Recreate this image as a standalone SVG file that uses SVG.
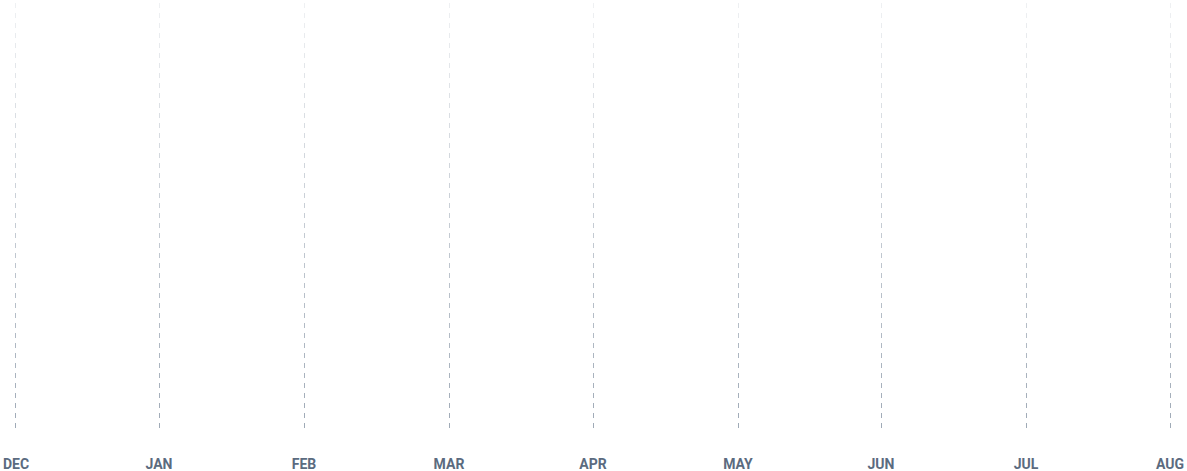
<svg xmlns="http://www.w3.org/2000/svg" width="1187" height="471" viewBox="0 0 1187 471">
<defs>
<linearGradient id="g" gradientUnits="userSpaceOnUse" x1="0" y1="3" x2="0" y2="430">
<stop offset="0" stop-color="#94a0ae" stop-opacity="0.15"/>
<stop offset="1" stop-color="#94a0ae" stop-opacity="0.9"/>
</linearGradient>
<style>
.l{stroke:url(#g);stroke-width:1;stroke-dasharray:5 5}
.t{font-family:Roboto,"Liberation Sans",sans-serif;font-weight:700;font-size:14px;fill:#5b6b7f;text-anchor:middle}
</style>
</defs>
<rect width="1187" height="471" fill="#fff"/>
<g id="connectors">
<line class="l" x1="15.5" y1="3" x2="15.5" y2="430"/>
<line class="l" x1="159.5" y1="3" x2="159.5" y2="430"/>
<line class="l" x1="304.5" y1="3" x2="304.5" y2="430"/>
<line class="l" x1="449.5" y1="3" x2="449.5" y2="430"/>
<line class="l" x1="593.5" y1="3" x2="593.5" y2="430"/>
<line class="l" x1="738.5" y1="3" x2="738.5" y2="430"/>
<line class="l" x1="881.5" y1="3" x2="881.5" y2="430"/>
<line class="l" x1="1026.5" y1="3" x2="1026.5" y2="430"/>
<line class="l" x1="1170.5" y1="3" x2="1170.5" y2="430"/>
</g>
<g id="dec"><text class="t" x="16" y="469">DEC</text></g>
<g id="jan"><text class="t" x="159" y="469">JAN</text></g>
<g id="feb"><text class="t" x="304" y="469">FEB</text></g>
<g id="mar"><text class="t" x="449" y="469">MAR</text></g>
<g id="apr"><text class="t" x="593" y="469">APR</text></g>
<g id="may"><text class="t" x="738" y="469">MAY</text></g>
<g id="jun"><text class="t" x="881" y="469">JUN</text></g>
<g id="jul"><text class="t" x="1026" y="469">JUL</text></g>
<g id="aug"><text class="t" x="1170" y="469">AUG</text></g>
</svg>
